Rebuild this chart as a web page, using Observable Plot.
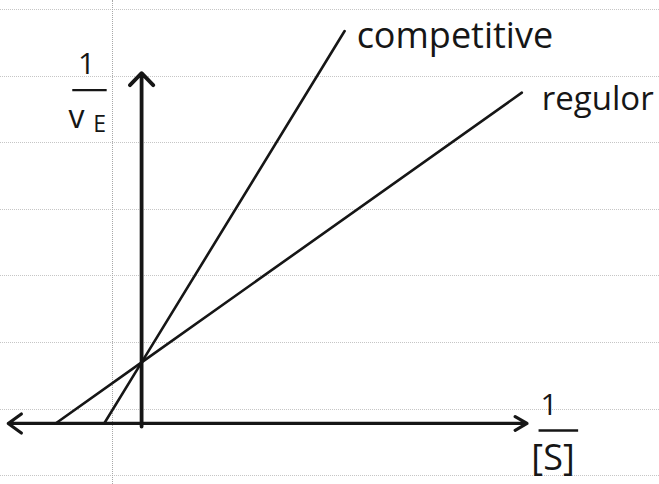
<!DOCTYPE html>
<html>
<head>
<meta charset="utf-8">
<script src="https://cdn.jsdelivr.net/npm/d3@7"></script>
<script src="https://cdn.jsdelivr.net/npm/@observablehq/plot@0.6"></script>
<style>
  html, body { margin: 0; background: #fff; }
  #sheet { position: relative; width: 659px; height: 484px; overflow: hidden; background: #fff; }
  .ruling { position: absolute; left: 0; width: 659px; height: 0; border-top: 1px dotted #c6c6c6; }
  .margin-line { position: absolute; top: 0; left: 112px; width: 0; height: 484px; border-left: 1px dotted #a8a8a8; }
  #sheet svg { position: absolute; left: 0; top: 0; }
</style>
</head>
<body>
<div id="sheet"></div>
<script>
// Lineweaver–Burk plot: 1/v against 1/[S], without and with a competitive inhibitor.
// Both lines share the y-intercept 1/Vmax; the inhibitor moves the x-intercept (-1/Km) toward zero.

const lineNames   = ["competitive", "regulor"];
const xIntercepts = [-0.435, -1.0];   // -1/Km (apparent Km for the inhibited line)
const yIntercept  = 1.0;              // 1/Vmax, shared
const lineEndX    = [2.36, 4.42];
const lineEndY    = [6.43, 5.42];

// Axis extents (1/[S] runs both ways, 1/v only upward)
const xAxisLeft  = -1.55;
const xAxisRight = 4.48;
const yAxisTop   = 5.74;

// Each line runs from its x-intercept through the shared y-intercept to its end
const lines = lineNames.flatMap((name, i) => [
  {name, x: xIntercepts[i], y: 0},
  {name, x: 0, y: yIntercept},
  {name, x: lineEndX[i], y: lineEndY[i]}
]);
const ends = lineNames.map((name, i) => ({name, x: lineEndX[i], y: lineEndY[i]}));

// Ruled notebook paper behind the chart
const sheet = document.getElementById("sheet");
for (let k = 0; k < 8; k++) {
  const d = document.createElement("div");
  d.className = "ruling";
  d.style.top = (9 + 66.6 * k) + "px";
  sheet.appendChild(d);
}
const m = document.createElement("div");
m.className = "margin-line";
sheet.appendChild(m);

const ink = "#161616";
const font = "Open Sans";

const chart = Plot.plot({
  width: 659,
  height: 484,
  margin: 0,
  x: {domain: [-1.64, 6.02], axis: null},
  y: {domain: [-1.0, 6.93], axis: null},
  style: {background: "transparent"},
  marks: [
    // axes drawn as arrows (head size is relative to the stroke width)
    Plot.arrow([{x1: 0, y1: 0, x2: xAxisRight, y2: 0}], {x1: "x1", y1: "y1", x2: "x2", y2: "y2", stroke: ink, strokeWidth: 3.2, headLength: 6.4, headAngle: 60}),
    Plot.arrow([{x1: 0, y1: 0, x2: xAxisLeft, y2: 0}], {x1: "x1", y1: "y1", x2: "x2", y2: "y2", stroke: ink, strokeWidth: 3.2, headLength: 7.6, headAngle: 72}),
    Plot.arrow([{x1: 0, y1: -0.05, x2: 0, y2: yAxisTop}], {x1: "x1", y1: "y1", x2: "x2", y2: "y2", stroke: ink, strokeWidth: 3.8, headLength: 6.6, headAngle: 88}),

    // the two reciprocal lines
    Plot.line(lines, {x: "x", y: "y", z: "name", stroke: ink, strokeWidth: 2.6, strokeLinecap: "round"}),

    // line labels at their upper ends
    Plot.text(ends.filter(d => d.name === "competitive"), {x: "x", y: "y", text: "name", textAnchor: "start", dx: 12, dy: 5, fontSize: 36, fontFamily: font, fill: ink}),
    Plot.text(ends.filter(d => d.name === "regulor"), {x: "x", y: "y", text: "name", textAnchor: "start", dx: 20, dy: 7, fontSize: 33, fontFamily: font, fill: ink}),

    // y-axis label 1 / vE
    Plot.text([{x: 0, y: yAxisTop}], {x: "x", y: "y", text: () => "1", dx: -55, dy: -9, fontSize: 30, fontFamily: font, fill: ink}),
    Plot.ruleY([yAxisTop], {x1: -0.80, x2: -0.40, dy: 17, stroke: ink, strokeWidth: 2.4}),
    Plot.text([{x: 0, y: yAxisTop}], {x: "x", y: "y", text: () => "v", dx: -65, dy: 45, fontSize: 32, fontFamily: font, fill: ink}),
    Plot.text([{x: 0, y: yAxisTop}], {x: "x", y: "y", text: () => "E", dx: -42, dy: 51, fontSize: 23, fontFamily: font, fill: ink}),

    // x-axis label 1 / [S]
    Plot.text([{x: xAxisRight, y: 0}], {x: "x", y: "y", text: () => "1", dx: 22, dy: -18, fontSize: 30, fontFamily: font, fill: ink}),
    Plot.ruleY([0], {x1: 4.62, x2: 5.08, dy: 7, stroke: ink, strokeWidth: 2.4}),
    Plot.text([{x: xAxisRight, y: 0}], {x: "x", y: "y", text: () => "[S]", dx: 26, dy: 35, fontSize: 36, fontFamily: font, fill: ink})
  ]
});
sheet.appendChild(chart);
</script>
</body>
</html>
